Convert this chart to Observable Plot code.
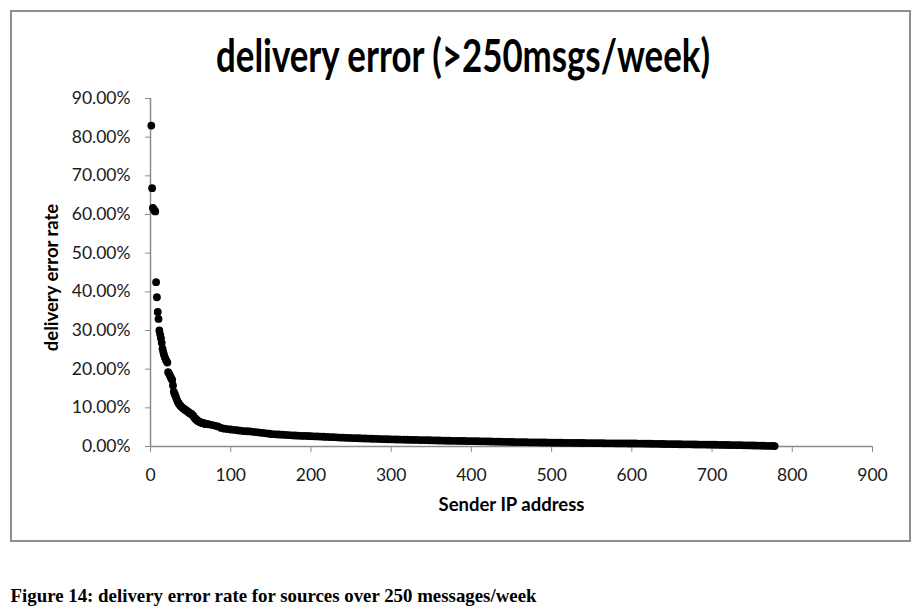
<!DOCTYPE html>
<html>
<head>
<meta charset="utf-8">
<script src="https://cdn.jsdelivr.net/npm/d3@7"></script>
<script src="https://cdn.jsdelivr.net/npm/@observablehq/plot@0.6"></script>
<style>
  html, body { margin: 0; padding: 0; background: #fff; }
  body { width: 922px; height: 616px; position: relative; overflow: hidden; }
  #frame { position: absolute; left: 10px; top: 10px; width: 901px; height: 532px; border: 2px solid #8e8e8e; box-sizing: border-box; }
  #title { position: absolute; left: 0; top: 0; }
  #chart { position: absolute; left: 0; top: 0; }
  #caption { position: absolute; left: 0; top: 570px; }
</style>
</head>
<body>
<div id="frame"></div>
<svg id="title" width="922" height="95">
  <text x="463" y="71.5" text-anchor="middle" font-family="Lato" font-weight="bold" font-size="46" textLength="494" lengthAdjust="spacingAndGlyphs" fill="#000">delivery error (&gt;250msgs/week)</text>
</svg>
<div id="chart"></div>
<svg id="caption" width="922" height="46">
  <text x="10.5" y="32" font-family="Liberation Serif" font-weight="bold" font-size="18.8" textLength="526" lengthAdjust="spacingAndGlyphs" fill="#000">Figure 14: delivery error rate for sources over 250 messages/week</text>
</svg>
<script>
// Head of the distribution: one point per sender (rank 1..70)
const headRank = [
  1,2,3,4,5,6,7,8,9,10,
  11,12,13,14,15,16,17,18,19,20,
  21,22,23,24,25,26,27,28,29,30,
  31,32,33,34,35,36,37,38,39,40,
  41,42,43,44,45,46,47,48,49,50,
  51,52,53,54,55,56,57,58,59,60,
  61,62,63,64,65,66,67,68,69,70
];
const headRate = [
  83.0,66.8,61.7,61.4,61.0,60.8,42.5,38.6,34.8,33.0,
  30.0,29.0,28.0,26.8,25.3,24.4,23.6,23.0,22.5,22.1,
  21.7,19.2,18.9,18.5,18.0,17.6,17.2,15.8,14.2,13.6,
  13.2,12.6,12.0,11.6,11.2,10.9,10.6,10.4,10.2,10.0,
  9.8,9.7,9.5,9.4,9.3,9.1,8.9,8.8,8.6,8.5,
  8.4,8.2,8.0,7.7,7.4,7.2,7.0,6.8,6.6,6.5,
  6.4,6.3,6.2,6.1,6.05,6.0,5.95,5.9,5.85,5.8
];
// Long tail (dense band), read along the band
const tailRank = [
  72,76,80,84,88,92,96,100,104,108,
  112,116,120,124,128,132,136,140,144,148,
  152,156,160,164,168,172,176,180,184,188,
  192,196,200,204,208,212,216,220,224,228,
  232,236,240,244,248,252,256,260,264,268,
  272,276,280,284,288,292,296,300,304,308,
  312,316,320,324,328,332,336,340,344,348,
  352,356,360,364,368,372,376,380,384,388,
  392,396,400,404,408,412,416,420,424,428,
  432,436,440,444,448,452,456,460,464,468,
  472,476,480,484,488,492,496,500,504,508,
  512,516,520,524,528,532,536,540,544,548,
  552,556,560,564,568,572,576,580,584,588,
  592,596,600,604,608,612,616,620,624,628,
  632,636,640,644,648,652,656,660,664,668,
  672,676,680,684,688,692,696,700,704,708,
  712,716,720,724,728,732,736,740,744,748,
  752,756,760,764,768,772,776,778
];
const tailRate = [
  5.75,5.6,5.4,5.2,4.8,4.6,4.5,4.4,4.3,4.2,
  4.1,4.0,3.95,3.9,3.8,3.7,3.6,3.5,3.4,3.3,
  3.2,3.15,3.1,3.05,3.0,2.95,2.9,2.85,2.8,2.77,
  2.74,2.71,2.68,2.64,2.6,2.56,2.52,2.48,2.44,2.4,
  2.36,2.32,2.28,2.25,2.22,2.19,2.16,2.13,2.1,2.07,
  2.04,2.01,1.98,1.95,1.92,1.9,1.87,1.85,1.83,1.81,
  1.79,1.77,1.75,1.73,1.71,1.69,1.67,1.65,1.63,1.61,
  1.59,1.57,1.55,1.53,1.51,1.49,1.47,1.46,1.44,1.43,
  1.42,1.41,1.40,1.38,1.36,1.35,1.33,1.31,1.29,1.27,
  1.26,1.24,1.22,1.20,1.18,1.17,1.15,1.14,1.12,1.11,
  1.09,1.08,1.07,1.05,1.04,1.03,1.01,1.00,0.99,0.98,
  0.97,0.96,0.95,0.94,0.93,0.92,0.91,0.90,0.89,0.88,
  0.87,0.86,0.85,0.84,0.83,0.82,0.81,0.80,0.80,0.79,
  0.79,0.78,0.78,0.77,0.76,0.75,0.73,0.72,0.71,0.69,
  0.68,0.67,0.65,0.64,0.62,0.61,0.60,0.58,0.57,0.56,
  0.55,0.53,0.52,0.51,0.50,0.49,0.48,0.47,0.45,0.44,
  0.42,0.41,0.39,0.38,0.36,0.35,0.33,0.31,0.30,0.28,
  0.26,0.24,0.22,0.20,0.18,0.16,0.14,0.12
];
const xTicks = [0,100,200,300,400,500,600,700,800,900];
const yTicks = [0,10,20,30,40,50,60,70,80,90];
const xLabel = "Sender IP address";
const yLabel = "delivery error rate";

const data = [];
headRank.forEach((r, i) => data.push({rank: r, rate: headRate[i]}));
tailRank.forEach((r, i) => data.push({rank: r, rate: tailRate[i]}));

const axisGray = "#8c8c8c";
const chart = Plot.plot({
  width: 922,
  height: 540,
  marginLeft: 150,
  marginRight: 50,
  marginTop: 98,
  marginBottom: 94,
  style: {fontFamily: "Lato", fontSize: "17.5px", color: "#1a1a1a", background: "transparent", overflow: "visible"},
  x: {domain: [0, 900]},
  y: {domain: [0, 90]},
  marks: [
    Plot.axisX({ticks: xTicks, tickSize: 6, tickPadding: 16, stroke: axisGray, tickFormat: d => String(d),
      label: xLabel, labelAnchor: "center", labelArrow: "none", labelOffset: 64}),
    Plot.axisY({ticks: yTicks, tickSize: 5, tickPadding: 15, stroke: axisGray, tickFormat: d => d.toFixed(2) + "%",
      label: yLabel, labelAnchor: "center", labelArrow: "none", labelOffset: 106}),
    Plot.ruleY([0], {stroke: axisGray, strokeWidth: 1.5}),
    Plot.ruleX([0], {stroke: axisGray, strokeWidth: 1.5}),
    Plot.dot(data, {x: "rank", y: "rate", r: 3.9, fill: "#000", stroke: "none"})
  ]
});
document.getElementById("chart").appendChild(chart);
d3.select(chart).selectAll('g[aria-label="x-axis label"] text, g[aria-label="y-axis label"] text')
  .attr("font-weight", "bold").attr("font-size", "18.5px").attr("fill", "#000");
const yl = d3.select(chart).select('g[aria-label="y-axis label"]');
yl.attr("transform", ((yl.attr("transform") || "") + " translate(0,5)").trim());
</script>
</body>
</html>
